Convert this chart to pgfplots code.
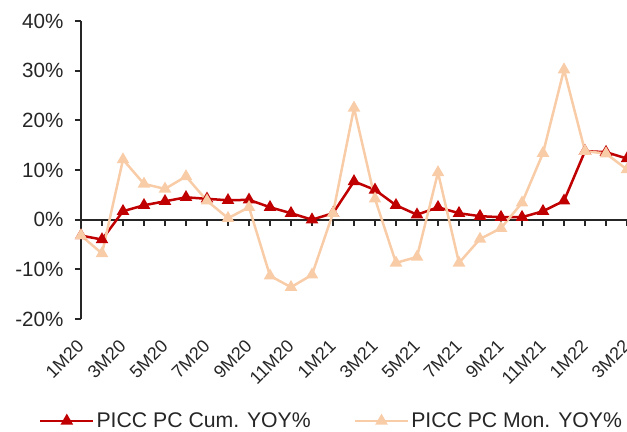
\documentclass[border=0pt]{standalone}
\usepackage{pgfplots}
\pgfplotsset{compat=1.18}
\usepackage{fontspec}
\setmainfont{Liberation Sans}
\definecolor{cumred}{HTML}{C00000}
\definecolor{monorange}{HTML}{F9CCA8}
\definecolor{axgray}{HTML}{262626}
\pgfplotstableread{
x cum mon
0 -3.2 -3.2
1 -4.0 -6.8
2 1.7 12.1
3 2.9 7.2
4 3.7 6.2
5 4.5 8.7
6 4.2 3.8
7 3.9 0.3
8 4.0 2.5
9 2.5 -11.3
10 1.3 -13.6
11 0.0 -11.1
12 1.3 1.3
13 7.7 22.5
14 6.0 4.2
15 2.9 -8.7
16 1.0 -7.5
17 2.5 9.5
18 1.3 -8.7
19 0.7 -3.9
20 0.5 -1.7
21 0.5 3.4
22 1.7 13.4
23 3.8 30.2
24 13.8 13.8
25 13.6 13.3
26 12.3 10.1
}\datatable
\begin{document}
\begin{tikzpicture}
\useasboundingbox (0,0) rectangle (627bp,432bp);
\pgfplotsset{
  common/.style={
    anchor=south west,
    scale only axis, width=546bp, height=298bp,
    xmin=0, xmax=26, ymin=-20, ymax=40,
    clip=false,
  }
}
\begin{axis}[common, at={(76bp,98bp)},
  axis x line*=bottom, axis y line=none,
  x axis line style={draw=none},
  xtick={0,2,...,26},
  xticklabels={1M20,3M20,5M20,7M20,9M20,11M20,1M21,3M21,5M21,7M21,9M21,11M21,1M22,3M22},
  major tick length=0pt,
  xticklabel style={rotate=45, anchor=north east, font=\fontsize{18}{21}\selectfont, text=axgray},
]
\end{axis}
\begin{axis}[common, at={(81bp,113bp)},
  axis x line=middle, axis y line=left,
  axis line style={-, draw=axgray, line width=2bp},
  tick style={draw=axgray, line width=2bp},
  tick align=outside, major tick length=6bp,
  xtick={0,...,26}, xticklabels={},
  ytick={-20,-10,...,40},
  yticklabels={-20\%,-10\%,0\%,10\%,20\%,30\%,40\%},
  yticklabel style={font=\fontsize{20.7}{24}\selectfont, text=axgray, xshift=-8bp},
  legend style={draw=none, fill=none, at={(0.4588,-0.342)}, anchor=center,
    legend columns=2, font=\fontsize{21.3}{25}\selectfont, text=axgray,
    /tikz/every even column/.append style={column sep=41bp}},
  legend image code/.code={\draw[mark repeat=2,mark phase=2,#1] plot coordinates {(0bp,0bp) (26.5bp,0bp) (53bp,0bp)};},
]
\addplot[cumred, line width=2.5bp, mark=triangle*, mark size=4.8bp, mark options={solid, fill=cumred}] table[x=x, y=cum] {\datatable};
\addlegendentry{PICC PC Cum. YOY\%}
\addplot[monorange, line width=2.5bp, mark=triangle*, mark size=4.8bp, mark options={solid, fill=monorange}] table[x=x, y=mon] {\datatable};
\addlegendentry{PICC PC Mon. YOY\%}
\end{axis}
\end{tikzpicture}
\end{document}
